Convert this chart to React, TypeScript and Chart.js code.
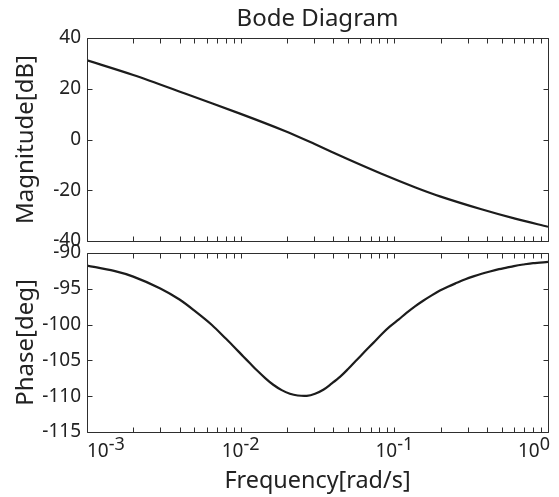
import React, { useEffect, useRef } from "react";
import { Chart, registerables } from "chart.js";

Chart.register(...registerables);

// ---- data ----
const magFreq = [0.001, 0.002, 0.00434, 0.0099, 0.0194, 0.0303, 0.05, 0.0825, 0.136, 0.198, 0.369, 0.611, 1.0];
const magDb = [31.2, 25.4, 18.1, 10.2, 3.35, -1.8, -7.8, -13.5, -18.8, -22.4, -27.5, -31.2, -34.4];

const phaseFreq = [
  0.001, 0.0015, 0.002, 0.003, 0.004, 0.005, 0.0065, 0.008, 0.009, 0.0104, 0.0115, 0.0127,
  0.0145, 0.0163, 0.0185, 0.0209, 0.0235, 0.0269, 0.0305, 0.0345, 0.039, 0.0443, 0.05, 0.0569,
  0.064, 0.073, 0.083, 0.0937, 0.107, 0.12, 0.137, 0.154, 0.175, 0.198, 0.225, 0.255, 0.29,
  0.327, 0.37, 0.419, 0.48, 0.538, 0.6, 0.69, 0.8, 1.0,
];
const phaseDeg = [
  -91.75, -92.5, -93.3, -94.95, -96.5, -98.05, -100.05, -101.95, -103.05, -104.45, -105.4, -106.35,
  -107.5, -108.4, -109.15, -109.65, -109.9, -109.95, -109.65, -109.1, -108.25, -107.3, -106.2, -104.95,
  -103.8, -102.55, -101.3, -100.25, -99.26, -98.37, -97.42, -96.67, -95.92, -95.25, -94.67, -94.17, -93.67,
  -93.27, -92.9, -92.58, -92.26, -92.04, -91.83, -91.61, -91.41, -91.25,
];

const freqMin = 0.001;
const freqMax = 1;
const magMin = -40;
const magMax = 40;
const magStep = 20;
const phaseMin = -115;
const phaseMax = -90;
const phaseStep = 5;
const decadeExponents = [-3, -2, -1, 0];
const minorMultipliers = [2, 3, 4, 5, 6, 7, 8, 9];

const FONT = '"Noto Sans", "DejaVu Sans", sans-serif';
const INK = "#222222";
const FRAME = "#2e2e2e";
const LINE = "#1c1c1c";

const crisp = (v: number) => Math.round(v) + 0.5;

const framePlugin = {
  id: "bodeFrame",
  afterDatasetsDraw(chart: any, _args: any, opts: any) {
    const { ctx, chartArea: a } = chart;
    const xs = chart.scales.x;
    const ys = chart.scales.y;
    const L = crisp(a.left);
    const R = crisp(a.right);
    const T = crisp(a.top);
    const B = crisp(a.bottom);
    const tl = 5;
    ctx.save();
    ctx.strokeStyle = FRAME;
    ctx.lineWidth = 1;
    ctx.beginPath();
    ctx.rect(L, T, R - L, B - T);
    const xVals: number[] = [];
    decadeExponents.forEach((e) => {
      const d = Math.pow(10, e);
      xVals.push(d);
      if (d < freqMax) minorMultipliers.forEach((m) => xVals.push(m * d));
    });
    xVals.forEach((v) => {
      const px = crisp(xs.getPixelForValue(v));
      ctx.moveTo(px, T);
      ctx.lineTo(px, T + tl);
      ctx.moveTo(px, B);
      ctx.lineTo(px, B - tl);
    });
    ys.ticks.forEach((t: any) => {
      const py = crisp(ys.getPixelForValue(t.value));
      ctx.moveTo(L, py);
      ctx.lineTo(L + tl, py);
      ctx.moveTo(R, py);
      ctx.lineTo(R - tl, py);
    });
    ctx.stroke();

    if (opts && opts.labels) {
      const baseSize = 19;
      const supSize = 18;
      const baseline = a.bottom + 25;
      ctx.fillStyle = INK;
      ctx.textBaseline = "alphabetic";
      ctx.textAlign = "left";
      decadeExponents.forEach((e) => {
        const v = Math.pow(10, e);
        const px = xs.getPixelForValue(v);
        ctx.font = `${baseSize}px ${FONT}`;
        const w1 = ctx.measureText("10").width;
        const expText = String(e);
        ctx.font = `${supSize}px ${FONT}`;
        const w2 = ctx.measureText(expText).width;
        let x0 = px - (w1 + w2) / 2;
        x0 = Math.max(a.left, Math.min(x0, a.right + 2 - (w1 + w2)));
        ctx.font = `${baseSize}px ${FONT}`;
        ctx.fillText("10", x0, baseline);
        ctx.font = `${supSize}px ${FONT}`;
        ctx.fillText(expText, x0 + w1, baseline - 7);
      });
    }
    ctx.restore();
  },
};

function yAxis(min: number, max: number, step: number, title: string) {
  return {
    type: "linear",
    min,
    max,
    ticks: { stepSize: step, font: { family: FONT, size: 19 }, color: INK, padding: 6 },
    grid: { display: false, drawTicks: false },
    border: { display: false },
    title: {
      display: true,
      text: title,
      font: { family: FONT, size: 24 },
      color: INK,
      padding: { top: 11.8, bottom: 0 },
    },
    afterFit(s: any) {
      s.width = 87;
    },
  };
}

function lineDataset(xs: number[], ys: number[]) {
  return {
    data: xs.map((x, i) => ({ x, y: ys[i] })),
    borderColor: LINE,
    borderWidth: 2.2,
    pointRadius: 0,
    fill: false,
    tension: 0.3,
  };
}

export default function App() {
  const magRef = useRef<HTMLCanvasElement>(null);
  const phaseRef = useRef<HTMLCanvasElement>(null);

  useEffect(() => {
    const magChart = new Chart(magRef.current as HTMLCanvasElement, {
      type: "line",
      data: { datasets: [lineDataset(magFreq, magDb) as any] },
      options: {
        animation: false,
        responsive: false,
        maintainAspectRatio: false,
        layout: { padding: { top: 0, left: 0, right: 11, bottom: 19 } },
        plugins: {
          legend: { display: false },
          tooltip: { enabled: false },
          title: {
            display: true,
            text: "Bode Diagram",
            fullSize: false,
            color: INK,
            font: { family: FONT, size: 24, weight: "normal" },
            padding: { top: 5, bottom: 4.2 },
          },
          bodeFrame: { labels: false },
        } as any,
        scales: {
          x: { type: "logarithmic", min: freqMin, max: freqMax, display: false },
          y: yAxis(magMin, magMax, magStep, "Magnitude[dB]") as any,
        },
      },
      plugins: [framePlugin],
    });

    const phaseChart = new Chart(phaseRef.current as HTMLCanvasElement, {
      type: "line",
      data: { datasets: [lineDataset(phaseFreq, phaseDeg) as any] },
      options: {
        animation: false,
        responsive: false,
        maintainAspectRatio: false,
        layout: { padding: { top: 18, left: 0, right: 11, bottom: 0 } },
        plugins: {
          legend: { display: false },
          tooltip: { enabled: false },
          bodeFrame: { labels: true },
        } as any,
        scales: {
          x: {
            type: "logarithmic",
            min: freqMin,
            max: freqMax,
            ticks: { display: false },
            grid: { display: false, drawTicks: false },
            border: { display: false },
            title: {
              display: true,
              text: "Frequency[rad/s]",
              font: { family: FONT, size: 23.4 },
              color: INK,
              padding: { top: 0, bottom: 1.2 },
            },
            afterFit(s: any) {
              s.height = 65;
            },
          } as any,
          y: yAxis(phaseMin, phaseMax, phaseStep, "Phase[deg]") as any,
        },
      },
      plugins: [framePlugin],
    });

    return () => {
      magChart.destroy();
      phaseChart.destroy();
    };
  }, []);

  return (
    <div style={{ position: "absolute", left: 0, top: 0, width: 559, height: 497, background: "#fff" }}>
      <canvas ref={magRef} width={559} height={260} style={{ position: "absolute", left: 0, top: 0 }} />
      <canvas ref={phaseRef} width={559} height={262} style={{ position: "absolute", left: 0, top: 235 }} />
    </div>
  );
}
